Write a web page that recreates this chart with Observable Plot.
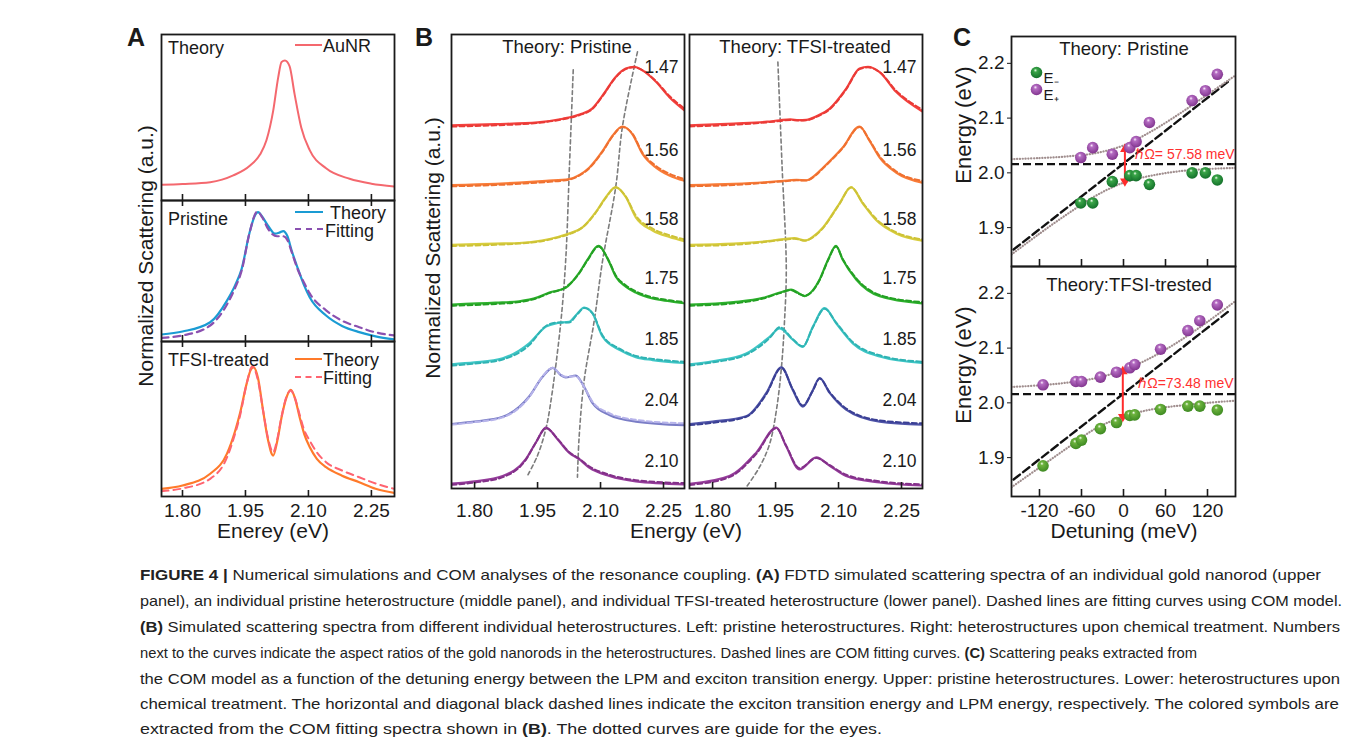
<!DOCTYPE html>
<html><head><meta charset="utf-8">
<script src="https://cdn.jsdelivr.net/npm/d3@7"></script>
<script src="https://cdn.jsdelivr.net/npm/@observablehq/plot@0.6"></script>
<style>
body{margin:0;background:#fff;}
#fig{position:relative;width:1355px;height:754px;overflow:hidden;font-family:"Liberation Sans",Arial,Helvetica,sans-serif;color:#1a1a1a;background:#fff;}
.abs{position:absolute;white-space:nowrap;line-height:1;}
</style></head><body>
<svg width="0" height="0" style="position:absolute">
<defs>
<radialGradient id="ballG1" cx="0.45" cy="0.4" r="0.6" fx="0.4" fy="0.3"><stop offset="0" stop-color="#f2fff0"/><stop offset="0.25" stop-color="#3aa548"/><stop offset="1" stop-color="#13702a"/></radialGradient>
<radialGradient id="ballG2" cx="0.45" cy="0.4" r="0.6" fx="0.4" fy="0.3"><stop offset="0" stop-color="#f6fff0"/><stop offset="0.25" stop-color="#6db33e"/><stop offset="1" stop-color="#3e8a22"/></radialGradient>
<radialGradient id="ballP" cx="0.45" cy="0.4" r="0.6" fx="0.4" fy="0.3"><stop offset="0" stop-color="#fff2ff"/><stop offset="0.25" stop-color="#b46cc2"/><stop offset="1" stop-color="#82358f"/></radialGradient>
</defs></svg>
<div id="fig"></div>
<script>
// ================= DATA =================
const energyTicks = [1.80, 1.95, 2.10, 2.25];
const detTicks = [-120, -60, 0, 60, 120];
const cEnergyTicks = [1.9, 2.0, 2.1, 2.2];

// Panel A: [energy eV, normalized scattering]
const aAuNR = [[1.75,.112],[1.80,.118],[1.866,.131],[1.921,.179],[1.961,.25],[1.985,.33],[2.0,.43],[2.016,.64],[2.028,.88],[2.036,.99],[2.044,1.0],[2.055,.96],[2.067,.76],[2.083,.52],[2.103,.36],[2.142,.23],[2.198,.155],[2.25,.12],[2.305,.10]];
const aPriTheory = [[1.75,.054],[1.80,.077],[1.866,.148],[1.906,.315],[1.925,.43],[1.941,.56],[1.96,.84],[1.972,.965],[1.980,.995],[1.99,.96],[2.005,.885],[2.02,.83],[2.032,.84],[2.04,.85],[2.05,.81],[2.06,.70],[2.075,.56],[2.09,.43],[2.103,.34],[2.142,.20],[2.18,.12],[2.221,.072],[2.26,.04],[2.305,.015]];
const aPriFit = [[1.75,.028],[1.80,.046],[1.866,.123],[1.906,.285],[1.925,.41],[1.941,.546],[1.96,.84],[1.978,1.0],[1.99,.955],[2.005,.86],[2.025,.81],[2.04,.81],[2.05,.78],[2.06,.69],[2.075,.55],[2.09,.45],[2.103,.37],[2.142,.24],[2.18,.16],[2.221,.11],[2.26,.07],[2.305,.046]];
const aTfsiTheory = [[1.75,.059],[1.80,.085],[1.866,.175],[1.906,.33],[1.925,.50],[1.937,.64],[1.953,.87],[1.962,.97],[1.969,.995],[1.98,.91],[1.992,.66],[2.004,.43],[2.016,.315],[2.026,.43],[2.036,.61],[2.048,.765],[2.058,.82],[2.068,.755],[2.079,.61],[2.09,.48],[2.103,.38],[2.12,.29],[2.142,.225],[2.18,.16],[2.221,.11],[2.26,.06],[2.305,.028]];
const aTfsiFit = [[1.75,.041],[1.80,.062],[1.866,.136],[1.906,.30],[1.925,.48],[1.937,.62],[1.953,.87],[1.966,1.0],[1.98,.89],[1.992,.66],[2.004,.445],[2.016,.34],[2.026,.445],[2.036,.615],[2.048,.77],[2.058,.815],[2.068,.755],[2.079,.63],[2.09,.51],[2.103,.43],[2.12,.34],[2.142,.264],[2.18,.20],[2.221,.148],[2.26,.10],[2.305,.059]];

// Panel B: aspect ratios and spectra [energy, theory, COM fit]
const aspectRatios = ["1.47","1.56","1.58","1.75","1.85","2.04","2.10"];
const bOffsets = [6,5,4,3,2,1,0];
const bPri147 = [[1.745,.08,.06],[1.85,.10,.08],[1.95,.13,.12],[2.01,.19,.18],[2.05,.26,.25],[2.08,.36,.35],[2.105,.58,.57],[2.136,.89,.88],[2.16,1.03,1.02],[2.18,1.06,1.05],[2.20,1.0,1.0],[2.232,.81,.82],[2.264,.55,.57],[2.30,.33,.36]];
const bPri156 = [[1.745,.08,.06],[1.85,.10,.08],[1.906,.12,.10],[1.97,.15,.13],[2.025,.18,.17],[2.05,.25,.24],[2.073,.37,.36],[2.105,.65,.64],[2.129,.91,.90],[2.152,1.06,1.05],[2.176,.93,.94],[2.20,.60,.62],[2.232,.37,.40],[2.264,.24,.27],[2.30,.15,.18]];
const bPri158 = [[1.745,.08,.06],[1.85,.10,.08],[1.906,.11,.10],[1.96,.15,.14],[1.998,.21,.20],[2.03,.28,.27],[2.057,.37,.37],[2.089,.63,.62],[2.113,.88,.87],[2.136,1.045,1.04],[2.16,.88,.89],[2.184,.54,.57],[2.224,.32,.35],[2.264,.21,.24],[2.30,.14,.17]];
const bPri175 = [[1.745,.08,.06],[1.85,.11,.09],[1.906,.135,.12],[1.95,.20,.19],[1.978,.28,.27],[2.017,.36,.37],[2.049,.61,.60],[2.069,.83,.82],[2.095,1.06,1.05],[2.12,.80,.81],[2.136,.55,.57],[2.16,.38,.40],[2.184,.28,.30],[2.224,.18,.20],[2.264,.135,.15],[2.30,.10,.12]];
const bPri185 = [[1.745,.08,.06],[1.80,.11,.09],[1.867,.18,.16],[1.93,.43,.40],[1.97,.71,.72],[1.998,.77,.78],[2.025,.79,.78],[2.045,.93,.92],[2.061,1.03,1.02],[2.081,.93,.93],[2.105,.54,.56],[2.145,.32,.34],[2.184,.20,.22],[2.224,.15,.17],[2.30,.10,.12]];
const bPri204 = [[1.745,.08,.07],[1.80,.12,.11],[1.867,.20,.19],[1.93,.54,.53],[1.962,.87,.88],[1.986,1.02,1.02],[2.005,.90,.91],[2.017,.86,.87],[2.041,.89,.88],[2.061,.70,.70],[2.081,.43,.45],[2.121,.23,.26],[2.184,.12,.15],[2.30,.06,.09]];
const bPri210 = [[1.745,.08,.06],[1.80,.12,.10],[1.867,.21,.19],[1.922,.49,.48],[1.946,.77,.77],[1.970,1.02,1.01],[1.998,.82,.83],[2.025,.60,.61],[2.049,.49,.50],[2.073,.35,.37],[2.121,.21,.23],[2.184,.12,.14],[2.30,.07,.09]];

const bTfsi147 = [[1.745,.08,.06],[1.85,.11,.09],[1.93,.14,.13],[1.96,.165,.15],[1.985,.18,.17],[2.005,.165,.16],[2.023,.17,.165],[2.05,.24,.23],[2.079,.36,.35],[2.118,.69,.68],[2.15,1.03,1.02],[2.170,1.06,1.05],[2.198,.97,.97],[2.237,.64,.66],[2.30,.31,.34]];
const bTfsi156 = [[1.745,.08,.06],[1.85,.10,.08],[1.93,.13,.12],[1.983,.16,.15],[2.0,.165,.16],[2.023,.16,.155],[2.045,.25,.24],[2.063,.37,.36],[2.11,.71,.70],[2.15,1.06,1.05],[2.174,.82,.83],[2.198,.54,.56],[2.237,.29,.31],[2.30,.12,.15]];
const bTfsi158 = [[1.745,.08,.06],[1.85,.10,.08],[1.93,.14,.13],[1.975,.18,.17],[1.995,.19,.18],[2.02,.15,.15],[2.04,.22,.21],[2.063,.37,.36],[2.102,.77,.76],[2.130,1.045,1.04],[2.158,.77,.78],[2.19,.49,.51],[2.237,.27,.29],[2.30,.15,.17]];
const bTfsi175 = [[1.745,.08,.06],[1.85,.12,.10],[1.92,.19,.18],[1.96,.28,.27],[1.987,.33,.32],[2.005,.27,.26],[2.019,.22,.23],[2.04,.33,.32],[2.055,.50,.49],[2.075,.83,.82],[2.094,1.06,1.05],[2.11,.83,.84],[2.142,.50,.52],[2.198,.22,.24],[2.30,.10,.12]];
const bTfsi185 = [[1.745,.08,.06],[1.80,.13,.11],[1.88,.26,.24],[1.936,.54,.52],[1.960,.68,.70],[1.991,.49,.50],[2.015,.37,.38],[2.039,.71,.70],[2.067,1.02,1.01],[2.094,.77,.78],[2.134,.43,.45],[2.198,.21,.23],[2.30,.10,.12]];
const bTfsi204 = [[1.745,.08,.06],[1.80,.12,.10],[1.88,.21,.20],[1.928,.60,.58],[1.964,1.03,1.02],[1.991,.65,.66],[2.015,.37,.39],[2.039,.65,.64],[2.055,.85,.84],[2.079,.60,.61],[2.118,.32,.34],[2.198,.12,.14],[2.30,.07,.09]];
const bTfsi210 = [[1.745,.08,.06],[1.84,.21,.19],[1.904,.60,.58],[1.952,1.02,1.01],[1.975,.71,.72],[2.007,.32,.34],[2.047,.52,.51],[2.079,.38,.39],[2.118,.21,.23],[2.198,.10,.12],[2.30,.05,.07]];

// Gray guide lines through the peaks (energy, stacked intensity)
const bPriGuideLow = [[2.035,7.01],[2.026,5.4],[2.017,3.82],[2.005,2.76],[1.982,1.47],[1.970,1.005],[1.950,0.553],[1.924,0.19]];
const bPriGuideHigh = [[2.188,7.31],[2.181,7.085],[2.152,6.05],[2.136,5.04],[2.105,3.82],[2.085,2.81],[2.061,1.81],[2.049,0.86],[2.045,0.19]];
const bTfsiGuide = [[1.9555,7.14],[1.9655,5.4],[1.9755,3.69],[1.971,2.76],[1.964,2.03],[1.952,1.31],[1.936,0.75],[1.912,0.36],[1.880,0.02]];

// Panel C: detuning (meV) vs energy (eV)
const cPriDet = [-61, -44, -16, 9, 18, 37, 98, 117, 134];
const cPriLower = [1.945, 1.945, 1.984, 1.995, 1.995, 1.979, 2.000, 2.000, 1.987];
const cPriUpper = [2.028, 2.046, 2.034, 2.046, 2.057, 2.092, 2.132, 2.150, 2.180];
const cTfsiDet = [-115, -68, -60, -33, -10, 9, 16, 53, 92, 109, 134];
const cTfsiLower = [1.885, 1.926, 1.932, 1.953, 1.964, 1.977, 1.978, 1.988, 1.994, 1.994, 1.987];
const cTfsiUpper = [2.033, 2.039, 2.039, 2.047, 2.056, 2.064, 2.070, 2.098, 2.132, 2.150, 2.179];
const guideDet = [-160, -120, -80, -40, 0, 40, 80, 120, 160];
const priGuideUp = [2.025, 2.027, 2.030, 2.036, 2.050, 2.076, 2.108, 2.143, 2.178];
const priGuideLo = [1.851, 1.889, 1.925, 1.958, 1.982, 1.995, 2.003, 2.007, 2.009];
const tfsiGuideUp = [2.029, 2.032, 2.037, 2.045, 2.060, 2.083, 2.113, 2.148, 2.186];
const tfsiGuideLo = [1.846, 1.882, 1.918, 1.953, 1.975, 1.988, 1.995, 2.000, 2.004];
const excitonE = 2.016;
const lpmDet = [-157, 153];
const lpmE = [1.860, 2.170];
const rabi = [{det: 2, lo: 1.981, hi: 2.047, label: "ℏΩ= 57.58 meV", ldet: 17, lE: 2.033},
              {det: -1, lo: 1.971, hi: 2.061, label: "ℏΩ=73.48 meV", ldet: 21, lE: 2.036}];

// ================= DRAWING =================
const FONT = '"Liberation Sans", Arial, Helvetica, sans-serif';
const INK = "#1a1a1a";
const fig = document.getElementById("fig");

function mk(frame, xd, yd, marks) {
  const m = {l: 60, r: 20, t: 20, b: 50};
  const p = Plot.plot({
    width: frame.w + m.l + m.r, height: frame.h + m.t + m.b,
    marginLeft: m.l, marginRight: m.r, marginTop: m.t, marginBottom: m.b,
    x: {domain: xd, axis: null}, y: {domain: yd, axis: null},
    style: {background: "transparent", overflow: "visible", fontFamily: FONT, fontSize: "19px", color: INK},
    marks
  });
  p.style.position = "absolute";
  p.style.left = (frame.x - m.l) + "px";
  p.style.top = (frame.y - m.t) + "px";
  fig.append(p);
  return p;
}
function txt(s, x, y, o = {}) {
  const d = document.createElement("div");
  d.className = "abs";
  d.textContent = s;
  const size = o.size || 18;
  d.style.left = x + "px"; d.style.top = y + "px";
  d.style.fontSize = size + "px";
  d.style.fontWeight = o.weight || "normal";
  d.style.color = o.color || INK;
  const tx = o.anchor === "middle" ? "-50%" : o.anchor === "end" ? "-100%" : "0";
  d.style.transform = `translate(${tx},-50%)` + (o.rotate ? ` rotate(${o.rotate}deg)` : "");
  fig.append(d);
  return d;
}
function swatch(x, y, w, color, dashed) {
  const s = document.createElement("div");
  s.className = "abs";
  s.style.left = x + "px"; s.style.top = (y - 1) + "px"; s.style.width = w + "px"; s.style.height = "0";
  s.style.borderTop = `2.4px ${dashed ? "dashed" : "solid"} ${color}`;
  fig.append(s);
}
// inner tick marks (short rules from the frame edge)
function innerTicks(vals, yd, h, side, px = 6) {
  const span = yd[1] - yd[0];
  const base = side === "bottom" ? yd[0] : yd[1];
  const tip = side === "bottom" ? yd[0] + span * px / h : yd[1] - span * px / h;
  return Plot.ruleX(vals, {x: d => d, y1: base, y2: tip, stroke: INK, strokeWidth: 1.6});
}
const frameMark = () => Plot.frame({stroke: INK, strokeWidth: 1.8});
const E = d => d[0];

// ---------- Panel A ----------
const aXd = [1.75, 2.305];
const A1 = {x: 161, y: 34, w: 233, h: 166}, A1y = [0, 1.186];
const A2 = {x: 161, y: 200, w: 233, h: 141}, A2y = [0, 1.085];
const A3 = {x: 161, y: 341, w: 233, h: 155}, A3y = [0, 1.192];
mk(A1, aXd, A1y, [
  Plot.line(aAuNR, {x: E, y: d => d[1], stroke: "#f4686e", strokeWidth: 2, curve: "monotone-x", clip: true}),
  innerTicks(energyTicks, A1y, A1.h, "bottom"),
  frameMark()
]);
mk(A2, aXd, A2y, [
  Plot.line(aPriTheory, {x: E, y: d => d[1], stroke: "#1a9bd3", strokeWidth: 2.2, curve: "monotone-x", clip: true}),
  Plot.line(aPriFit, {x: E, y: d => d[1], stroke: "#8a50b0", strokeWidth: 2.2, strokeDasharray: "7,5", curve: "monotone-x", clip: true}),
  innerTicks(energyTicks, A2y, A2.h, "bottom"),
  innerTicks(energyTicks, A2y, A2.h, "top"),
  frameMark()
]);
mk(A3, aXd, A3y, [
  Plot.line(aTfsiTheory, {x: E, y: d => d[1], stroke: "#ff7a2a", strokeWidth: 2.2, curve: "monotone-x", clip: true}),
  Plot.line(aTfsiFit, {x: E, y: d => d[1], stroke: "#ff6470", strokeWidth: 2, strokeDasharray: "7,5", curve: "monotone-x", clip: true}),
  innerTicks(energyTicks, A3y, A3.h, "bottom"),
  innerTicks(energyTicks, A3y, A3.h, "top"),
  Plot.axisX({ticks: energyTicks, tickFormat: d => d.toFixed(2), tickSize: 0, tickPadding: 7, fontSize: 19, label: null}),
  frameMark()
]);

// ---------- Panel B ----------
const bXd = [1.745, 2.30];
const bYd = [0, 7.6];
const bPri = [bPri147, bPri156, bPri158, bPri175, bPri185, bPri204, bPri210];
const bTfsi = [bTfsi147, bTfsi156, bTfsi158, bTfsi175, bTfsi185, bTfsi204, bTfsi210];
const solidL = ["#f4423e", "#f97c38", "#d8cd3e", "#2db12d", "#3ec6c6", "#7a7dc6", "#953c9b"];
const fitL   = ["#ea3a36", "#ef7030", "#cdc236", "#23a023", "#2fb3b3", "#b6b3ea", "#833089"];
const solidR = ["#f4423e", "#f97c38", "#d8cd3e", "#2db12d", "#3ec6c6", "#4f54a8", "#953c9b"];
const fitR   = ["#ea3a36", "#ef7030", "#cdc236", "#23a023", "#2fb3b3", "#3a3f94", "#833089"];
const labelRise = [1.05, 0.66, 0.51, 0.51, 0.5, 0.47, 0.46];
function bMarks(sets, solid, fit, guides, frame) {
  const marks = [];
  guides.forEach(g => marks.push(Plot.line(g, {x: E, y: d => d[1], stroke: "#7c7c7c", strokeWidth: 1.6, strokeDasharray: "4,3", curve: "catmull-rom", clip: true})));
  sets.forEach((s, i) => {
    marks.push(Plot.line(s, {x: E, y: d => d[1] + bOffsets[i], stroke: solid[i], strokeWidth: 2.2, curve: "monotone-x", clip: true}));
    marks.push(Plot.line(s, {x: E, y: d => d[2] + bOffsets[i], stroke: fit[i], strokeWidth: 2, strokeDasharray: "5,3", curve: "monotone-x", clip: true}));
  });
  marks.push(Plot.text(aspectRatios, {frameAnchor: "right", dx: -6, y: (d, i) => bOffsets[i] + labelRise[i], text: d => d, textAnchor: "end", fontSize: 17.5, fill: INK}));
  marks.push(innerTicks(energyTicks, bYd, frame.h, "bottom"));
  marks.push(Plot.axisX({ticks: energyTicks, tickFormat: d => d.toFixed(2), tickSize: 0, tickPadding: 15, fontSize: 19, label: null}));
  marks.push(frameMark());
  return marks;
}
const BL = {x: 451, y: 34, w: 233, h: 454};
const BR = {x: 689, y: 34, w: 233, h: 454};
mk(BL, bXd, bYd, bMarks(bPri, solidL, fitL, [bPriGuideLow, bPriGuideHigh], BL));
mk(BR, bXd, bYd, bMarks(bTfsi, solidR, fitR, [bTfsiGuide], BR));

// ---------- Panel C ----------
const cXd = [-160, 160];
const cYd = [1.829, 2.249];
const RED = "#ff2b2b";
function cMarks(det, lower, upper, gUp, gLo, r, greenFill, frame, withLabels) {
  const pts = (ys) => det.map((d, i) => ({det: d, e: ys[i]}));
  const gl = (ys) => guideDet.map((d, i) => ({det: d, e: ys[i]}));
  const marks = [
    Plot.ruleY([excitonE], {stroke: "#111", strokeWidth: 2.2, strokeDasharray: "8,4"}),
    Plot.line(lpmDet.map((d, i) => ({det: d, e: lpmE[i]})), {x: "det", y: "e", stroke: "#111", strokeWidth: 2.4, strokeDasharray: "8,4"}),
    Plot.line(gl(gUp), {x: "det", y: "e", stroke: "#a08e8e", strokeWidth: 2.2, strokeDasharray: "0.2,2.6", strokeLinecap: "round", curve: "catmull-rom", clip: true}),
    Plot.line(gl(gLo), {x: "det", y: "e", stroke: "#a08e8e", strokeWidth: 2.2, strokeDasharray: "0.2,2.6", strokeLinecap: "round", curve: "catmull-rom", clip: true}),
    Plot.link([r], {x1: "det", x2: "det", y1: "lo", y2: "hi", stroke: RED, strokeWidth: 2}),
    Plot.dot([r], {x: "det", y: "hi", symbol: "triangle", r: 3.6, fill: RED, stroke: "none", dy: 2}),
    Plot.dot([r], {x: "det", y: "lo", symbol: "triangle", rotate: 180, r: 3.6, fill: RED, stroke: "none", dy: -2}),
    Plot.text([r], {x: "ldet", y: "lE", text: "label", fill: "#ff3030", fontSize: 14, textAnchor: "start"}),
    Plot.dot(pts(lower), {x: "det", y: "e", r: 5.8, fill: greenFill, stroke: "none"}),
    Plot.dot(pts(upper), {x: "det", y: "e", r: 5.8, fill: "url(#ballP)", stroke: "none"}),
    Plot.axisY({ticks: cEnergyTicks, tickFormat: d => d.toFixed(1), tickSize: 4, tickPadding: 3, fontSize: 19, label: null, stroke: INK}),
    innerTicks(detTicks, cYd, frame.h, "bottom", 7)
  ];
  if (withLabels) marks.push(Plot.axisX({ticks: detTicks, tickFormat: d => String(d), tickSize: 0, tickPadding: 7, fontSize: 19, label: null}));
  marks.push(frameMark());
  return marks;
}
const C1 = {x: 1011, y: 36, w: 224, h: 230};
const C2 = {x: 1011, y: 266, w: 224, h: 230};
mk(C1, cXd, cYd, [
  ...cMarks(cPriDet, cPriLower, cPriUpper, priGuideUp, priGuideLo, rabi[0], "url(#ballG1)", C1, false),
  Plot.dot(["E₋"], {frameAnchor: "top-left", dx: 25, dy: 36, r: 5.8, fill: "url(#ballG1)"}),
  Plot.dot(["E₊"], {frameAnchor: "top-left", dx: 25, dy: 53, r: 5.8, fill: "url(#ballP)"}),
  Plot.text(["E₋"], {frameAnchor: "top-left", dx: 32, dy: 36, text: d => d, textAnchor: "start", fontSize: 15, fill: INK}),
  Plot.text(["E₊"], {frameAnchor: "top-left", dx: 32, dy: 53, text: d => d, textAnchor: "start", fontSize: 15, fill: INK})
]);
mk(C2, cXd, cYd, cMarks(cTfsiDet, cTfsiLower, cTfsiUpper, tfsiGuideUp, tfsiGuideLo, rabi[1], "url(#ballG2)", C2, true));

// ---------- Text annotations ----------
txt("A", 136, 37, {size: 25, weight: "bold", anchor: "middle"});
txt("B", 424, 37, {size: 25, weight: "bold", anchor: "middle"});
txt("C", 962, 37, {size: 25, weight: "bold", anchor: "middle"});

txt("Theory", 168, 48, {size: 18});
swatch(295, 45, 27, "#f4686e", false);
txt("AuNR", 323, 46, {size: 18});
txt("Pristine", 168, 219, {size: 18});
swatch(295, 212, 28, "#1a9bd3", false);
txt("Theory", 330, 213, {size: 18});
swatch(295, 229, 28, "#8a50b0", true);
txt("Fitting", 325, 231, {size: 18});
txt("TFSI-treated", 168, 360, {size: 18});
swatch(295, 359, 27, "#ff7a2a", false);
txt("Theory", 323, 360, {size: 18});
swatch(295, 377, 27, "#ff6470", true);
txt("Fitting", 323, 378, {size: 18});

txt("Normalized Scattering (a.u.)", 145, 256, {size: 21, anchor: "middle", rotate: -90});
txt("Enerey (eV)", 273, 530, {size: 21, anchor: "middle"});

txt("Theory: Pristine", 567, 47, {size: 18.5, anchor: "middle"});
txt("Theory: TFSI-treated", 805, 47, {size: 18.5, anchor: "middle"});
txt("Normalized Scattering (a.u.)", 432, 248, {size: 21, anchor: "middle", rotate: -90});
txt("Energy (eV)", 686, 530, {size: 21, anchor: "middle"});

txt("Theory: Pristine", 1124, 49, {size: 18.5, anchor: "middle"});
txt("Theory:TFSI-trested", 1129, 285, {size: 18.5, anchor: "middle"});
txt("Energy (eV)", 964, 125, {size: 22, anchor: "middle", rotate: -90});
txt("Energy (eV)", 964, 365, {size: 22, anchor: "middle", rotate: -90});
txt("Detuning (meV)", 1124, 530, {size: 21, anchor: "middle"});

// ---------- Caption ----------
const caption = [
  [["b", "FIGURE 4 | "], ["", "Numerical simulations and COM analyses of the resonance coupling. "], ["b", "(A)"], ["", " FDTD simulated scattering spectra of an individual gold nanorod (upper"]],
  [["", "panel), an individual pristine heterostructure (middle panel), and individual TFSI-treated heterostructure (lower panel). Dashed lines are fitting curves using COM model."]],
  [["b", "(B)"], ["", " Simulated scattering spectra from different individual heterostructures. Left: pristine heterostructures. Right: heterostructures upon chemical treatment. Numbers"]],
  [["", "next to the curves indicate the aspect ratios of the gold nanorods in the heterostructures. Dashed lines are COM fitting curves. "], ["b", "(C)"], ["", " Scattering peaks extracted from"]],
  [["", "the COM model as a function of the detuning energy between the LPM and exciton transition energy. Upper: pristine heterostructures. Lower: heterostructures upon"]],
  [["", "chemical treatment. The horizontal and diagonal black dashed lines indicate the exciton transition energy and LPM energy, respectively. The colored symbols are"]],
  [["", "extracted from the COM fitting spectra shown in "], ["b", "(B)"], ["", ". The dotted curves are guide for the eyes."]]
];
const capRight = [1321, 1342, 1340, 1197, 1340, 1339, 882];
const capY = [574, 600, 626, 651.5, 677.5, 703, 728];
caption.forEach((parts, i) => {
  const d = document.createElement("div");
  d.className = "abs";
  d.style.left = "140px"; d.style.top = capY[i] + "px";
  d.style.fontSize = "15px"; d.style.color = "#222";
  parts.forEach(([w, s]) => {
    const sp = document.createElement("span");
    sp.textContent = s;
    if (w === "b") sp.style.fontWeight = "bold";
    d.append(sp);
  });
  fig.append(d);
  const wNat = d.getBoundingClientRect().width;
  const k = (capRight[i] - 140) / wNat;
  d.style.transformOrigin = "0 0";
  d.style.transform = `translateY(-50%) scaleX(${k})`;
});
</script></body></html>
